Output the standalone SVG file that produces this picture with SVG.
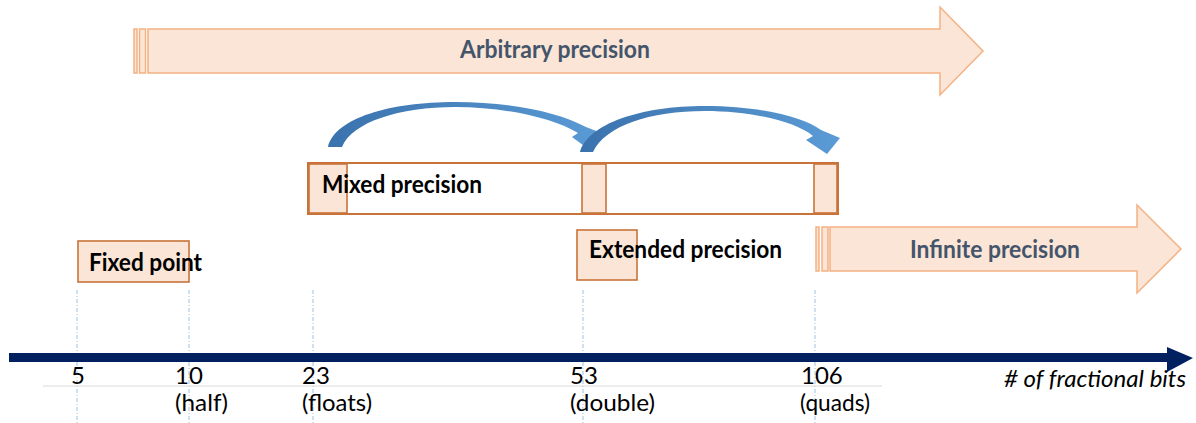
<svg xmlns="http://www.w3.org/2000/svg" width="1196" height="423" viewBox="0 0 1196 423">
  <defs>
    <style>
      .band { fill: #FBE5D6; stroke: #F4B183; stroke-width: 1.5; }
      .box { fill: #FBE5D6; stroke: #C9733A; stroke-width: 1.6; }
      .frame { fill: #FFFFFF; stroke: #C9733A; stroke-width: 2; }
      .guide { stroke: #9DC3E6; stroke-width: 1; stroke-dasharray: 4 2 1 2; fill: none; }
      .lbl { font-family: Lato, "Open Sans", "Liberation Sans", sans-serif; font-weight: bold; font-size: 24px; fill: #000000; }
      .band-lbl { font-family: Lato, "Open Sans", "Liberation Sans", sans-serif; font-weight: bold; font-size: 24px; fill: #44546A; }
      .tick { font-family: Lato, "Open Sans", "Liberation Sans", sans-serif; font-size: 24px; fill: #000000; }
      .axis-lbl { font-family: Lato, "Open Sans", "Liberation Sans", sans-serif; font-style: italic; font-size: 24px; fill: #000000; }
    </style>
    <linearGradient id="curveFill" x1="0" y1="0" x2="1" y2="0">
      <stop offset="0" stop-color="#3A72AD"/>
      <stop offset="1" stop-color="#5B9BD5"/>
    </linearGradient>
  </defs>

  <!-- guide lines under the value ticks -->
  <g id="guides">
    <line class="guide" x1="77" y1="290" x2="77" y2="423"/>
    <line class="guide" x1="189" y1="290" x2="189" y2="423"/>
    <line class="guide" x1="313" y1="290" x2="313" y2="423"/>
    <line class="guide" x1="583" y1="290" x2="583" y2="423"/>
    <line class="guide" x1="815" y1="290" x2="815" y2="423"/>
    <line x1="43" y1="386" x2="882" y2="386" stroke="#D9D9D9" stroke-width="1"/>
  </g>

  <!-- arbitrary precision band -->
  <g id="arbitrary">
    <rect class="band" x="134" y="29" width="3" height="44"/>
    <rect class="band" x="139.5" y="29" width="6" height="44"/>
    <path class="band" d="M148,29 H940 V7 L983,51 L940,95 V73 H148 Z"/>
    <text class="band-lbl" x="460" y="58" textLength="190" lengthAdjust="spacingAndGlyphs">Arbitrary precision</text>
  </g>

  <!-- mixed precision bar -->
  <g id="mixed">
    <rect class="frame" x="308" y="163" width="530" height="51"/>
    <rect class="box" x="309" y="164" width="38" height="49"/>
    <rect class="box" x="582" y="164" width="24" height="49"/>
    <rect class="box" x="814" y="164" width="23" height="49"/>
    <text class="lbl" x="322" y="193" textLength="160" lengthAdjust="spacingAndGlyphs">Mixed precision</text>
  </g>

  <!-- fixed point -->
  <g id="fixed">
    <rect class="box" x="78" y="241" width="111" height="41"/>
    <text class="lbl" x="89" y="271" textLength="113" lengthAdjust="spacingAndGlyphs">Fixed point</text>
  </g>

  <!-- extended precision -->
  <g id="extended">
    <rect class="box" x="577" y="230" width="60" height="50"/>
    <text class="lbl" x="589" y="258" textLength="193" lengthAdjust="spacingAndGlyphs">Extended precision</text>
  </g>

  <!-- infinite precision band -->
  <g id="infinite">
    <rect class="band" x="816" y="227" width="3" height="44"/>
    <rect class="band" x="822" y="227" width="6" height="44"/>
    <path class="band" d="M830,227 H1137 V205 L1181,249 L1137,293 V271 H830 Z"/>
    <text class="band-lbl" x="910" y="258" textLength="170" lengthAdjust="spacingAndGlyphs">Infinite precision</text>
  </g>

  <!-- connectors: curved hops and the bit axis -->
  <g id="connectors">
    <path fill="url(#curveFill)" d="M328,147 C335,118 390,102 455,102 C510,102 558,112 586,127 L604,134 L591,151 L572,137 L578,133 C553,118 505,107 455,107 C400,107 352,122 342,147 Z"/>
    <path fill="url(#curveFill)" d="M580,152 C588,124 640,106 705,106 C760,106 803,117 821,130 L840,138 L827,154 L806,140 L813,136 C795,121 750,111 705,111 C650,111 605,126 593,152 Z"/>
    <path fill="#002060" d="M9,353 H1167 V347 L1193,358 L1167,372 V362 H9 Z"/>
  </g>

  <!-- axis labels -->
  <g id="ticks">
    <text class="tick" x="71" y="384">5</text>
    <text class="tick" x="175" y="384">10</text>
    <text class="tick" x="302" y="384">23</text>
    <text class="tick" x="570" y="384">53</text>
    <text class="tick" x="801" y="384">106</text>
    <text class="tick" x="175" y="411" textLength="53" lengthAdjust="spacingAndGlyphs">(half)</text>
    <text class="tick" x="302" y="411" textLength="70" lengthAdjust="spacingAndGlyphs">(floats)</text>
    <text class="tick" x="570" y="411" textLength="85" lengthAdjust="spacingAndGlyphs">(double)</text>
    <text class="tick" x="800" y="411" textLength="70" lengthAdjust="spacingAndGlyphs">(quads)</text>
    <text class="axis-lbl" x="1004" y="387" textLength="182" lengthAdjust="spacingAndGlyphs"># of fractional bits</text>
  </g>
</svg>
